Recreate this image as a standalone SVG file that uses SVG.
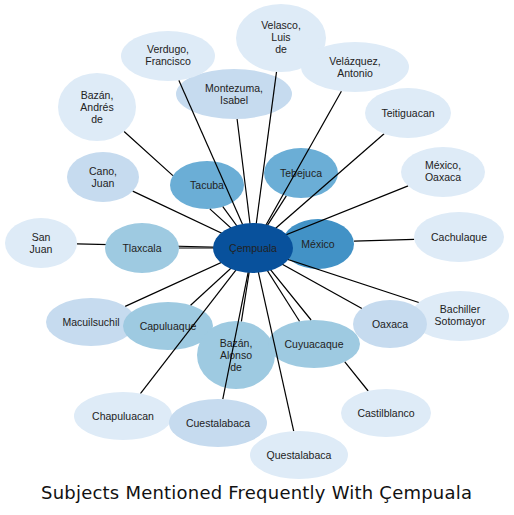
<svg xmlns="http://www.w3.org/2000/svg" width="514" height="515" viewBox="0 0 514 515">
<style>
text{font-family:"Liberation Sans",Arial,sans-serif;font-size:10.5px;fill:#222;text-anchor:middle}
.c0{fill:#08519c}.c1{fill:#4292c6}.c2{fill:#6baed6}.c3{fill:#9ecae1}.c4{fill:#c6dbef}.c5{fill:#deebf7}
#connectors path{stroke:#000;stroke-width:1.2;fill:none}
.title{font-family:"DejaVu Sans",Verdana,sans-serif;font-size:18px;fill:#111;text-anchor:start}
</style>
<rect width="514" height="515" fill="#fff"/>
<g id="n-macuilsuchil"><ellipse class="c4" cx="91" cy="322" rx="45" ry="24"/><text x="91" y="326">Macuilsuchil</text></g>
<g id="n-mexico"><ellipse class="c1" cx="318" cy="244" rx="36" ry="25"/><text x="318" y="248">México</text></g>
<g id="n-tacuba"><ellipse class="c2" cx="207" cy="185" rx="37" ry="24"/><text x="207" y="189">Tacuba</text></g>
<g id="n-tebejuca"><ellipse class="c2" cx="301" cy="173" rx="37" ry="25"/><text x="301" y="177">Tebejuca</text></g>
<g id="n-capuluaque"><ellipse class="c3" cx="168" cy="326" rx="45" ry="24"/><text x="168" y="330">Capuluaque</text></g>
<g id="n-bazan-alonso"><ellipse class="c3" cx="236" cy="355" rx="39" ry="34"/><text x="236" y="347">Bazán,</text><text x="236" y="359">Alonso</text><text x="236" y="371">de</text></g>
<g id="n-cuyuacaque"><ellipse class="c3" cx="314" cy="344" rx="46" ry="24"/><text x="314" y="348">Cuyuacaque</text></g>
<g id="n-montezuma"><ellipse class="c4" cx="234" cy="94" rx="58" ry="25"/><text x="234" y="92">Montezuma,</text><text x="234" y="104">Isabel</text></g>
<g id="connectors">
<path d="M253,248L282.1,246.2"/>
<path d="M253,248L222.8,206.7"/>
<path d="M253,248L286.3,195.9"/>
<path d="M253,248L179,248"/>
<path d="M253,248L190.6,305.2"/>
<path d="M253,248L241.4,321.3"/>
<path d="M253,248L299.5,321.2"/>
<path d="M253,248L361.9,308.4"/>
<path d="M253,248L237.1,119"/>
<path d="M253,248L222.8,399.1"/>
<path d="M253,248L125.2,306.4"/>
<path d="M253,248L132.7,191.1"/>
<path d="M253,248L418.8,302.5"/>
<path d="M253,248L311.1,320M344.8,361.9L368.2,391"/>
<path d="M253,248L293.7,431.1"/>
<path d="M253,248L140.4,393.6"/>
<path d="M253,248L77,243.8"/>
<path d="M124.1,131.5L172.9,175.6M209.8,208.9L253,248"/>
<path d="M253,248L178.8,80.3"/>
<path d="M253,248L276.5,71.8"/>
<path d="M253,248L341.4,91.2"/>
<path d="M253,248L384.1,133.8"/>
<path d="M253,248L408.1,185.9"/>
<path d="M354,241.1L414.2,239.4"/>
</g>
<g id="n-bachiller"><ellipse class="c5" cx="460" cy="316" rx="49" ry="25"/><text x="460" y="313">Bachiller</text><text x="460" y="325">Sotomayor</text></g>
<g id="n-oaxaca"><ellipse class="c4" cx="390" cy="324" rx="37" ry="24"/><text x="390" y="328">Oaxaca</text></g>
<g id="n-tlaxcala"><ellipse class="c3" cx="142" cy="248" rx="37" ry="25"/><text x="142" y="252">Tlaxcala</text></g>
<g id="n-san-juan"><ellipse class="c5" cx="41" cy="243" rx="36" ry="25"/><text x="41" y="241">San</text><text x="41" y="253">Juan</text></g>
<g id="n-cano"><ellipse class="c4" cx="103" cy="177" rx="36" ry="25"/><text x="103" y="175">Cano,</text><text x="103" y="187">Juan</text></g>
<g id="n-bazan-andres"><ellipse class="c5" cx="97" cy="107" rx="39" ry="34"/><text x="97" y="99">Bazán,</text><text x="97" y="111">Andrés</text><text x="97" y="123">de</text></g>
<g id="n-verdugo"><ellipse class="c5" cx="168" cy="56" rx="47" ry="25"/><text x="168" y="53">Verdugo,</text><text x="168" y="65">Francisco</text></g>
<g id="n-velasco"><ellipse class="c5" cx="281" cy="38" rx="45" ry="34"/><text x="281" y="29">Velasco,</text><text x="281" y="41">Luis</text><text x="281" y="53">de</text></g>
<g id="n-velazquez"><ellipse class="c5" cx="355" cy="67" rx="54" ry="25"/><text x="355" y="65">Velázquez,</text><text x="355" y="77">Antonio</text></g>
<g id="n-teitiguacan"><ellipse class="c5" cx="408" cy="113" rx="43" ry="25"/><text x="408" y="117">Teitiguacan</text></g>
<g id="n-mexico-oaxaca"><ellipse class="c5" cx="443" cy="172" rx="42" ry="25"/><text x="443" y="169">México,</text><text x="443" y="181">Oaxaca</text></g>
<g id="n-cachulaque"><ellipse class="c5" cx="459" cy="237" rx="45" ry="25"/><text x="459" y="241">Cachulaque</text></g>
<g id="n-castilblanco"><ellipse class="c5" cx="386" cy="413" rx="45" ry="24"/><text x="386" y="417">Castilblanco</text></g>
<g id="n-questalabaca"><ellipse class="c5" cx="299" cy="455" rx="49" ry="24"/><text x="299" y="459">Questalabaca</text></g>
<g id="n-chapuluacan"><ellipse class="c5" cx="123" cy="416" rx="49" ry="24"/><text x="123" y="420">Chapuluacan</text></g>
<g id="n-cuestalabaca"><ellipse class="c4" cx="218" cy="423" rx="49" ry="24"/><text x="218" y="427">Cuestalabaca</text></g>
<g id="n-cempuala"><ellipse class="c0" cx="253" cy="248" rx="40" ry="25"/><text x="253" y="252">Çempuala</text></g>
<text class="title" x="41" y="499" textLength="431" lengthAdjust="spacing">Subjects Mentioned Frequently With Çempuala</text>
</svg>
